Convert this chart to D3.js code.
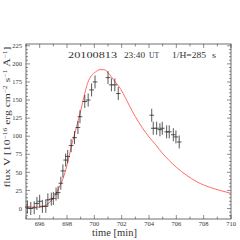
<!DOCTYPE html>
<html>
<head>
<meta charset="utf-8">
<script src="https://cdn.jsdelivr.net/npm/d3@7"></script>
<style>
  body { margin: 0; background: #fff; }
  svg { display: block; }
  text { font-family: "Liberation Serif", "DejaVu Serif", serif; fill: #333; }
</style>
</head>
<body>
<svg id="chart" width="240" height="240"></svg>
<script>
// observed flux (time in min, flux, errors)
const obsTime = [695.1, 695.35, 695.6, 695.8, 696.0, 696.2, 696.45, 696.6, 696.85, 697.0,
  697.2, 697.35, 697.55, 697.7, 697.9, 698.05, 698.3, 698.55, 698.8, 698.95,
  699.3, 699.55, 699.8, 700.05, 701.0, 701.25, 701.5, 701.75,
  704.2, 704.31, 704.56, 704.8, 704.97, 705.29, 705.48, 705.78, 705.97, 706.21];
const obsFlux = [2, 0, 1, 7, 10, 3, 3, 12, 13, 14,
  20, 22, 35, 52, 67, 72, 87, 98, 112, 127,
  148, 150, 164, 175, 181, 171, 171, 159,
  129, 111, 111, 109, 111, 106, 106, 102, 99, 92];
const timeErr = 0.17;
const fluxErr = 9;

// model curve
const modelTime = [695.0, 695.5, 696.0, 696.3, 696.5, 696.8, 697.0, 697.2, 697.5, 697.7,
  698.0, 698.2, 698.4, 698.7, 699.0, 699.3, 699.5, 699.8, 700.1, 700.4,
  700.7, 701.0, 701.4, 701.9, 702.3, 702.6, 703.0, 703.5, 704.0, 704.5,
  705.0, 705.5, 706.0, 706.75, 707.5, 708.5, 709.2, 710.0];
const modelFlux = [2, 2, 2, 3, 5, 10, 15, 21, 32, 41,
  60, 76, 92, 113, 135, 159, 173, 184, 189, 192,
  192, 188, 178, 166, 152, 141, 127, 112, 99, 88,
  76, 66, 57, 46, 37, 29, 25, 21];

const xTicks = [696, 698, 700, 702, 704, 706, 708, 710];
const yTicks = [0, 25, 50, 75, 100, 125, 150, 175, 200, 225];

const frame = { left: 26, right: 231, top: 44, bottom: 219 };
const svg = d3.select('#chart');

const x = d3.scaleLinear().domain([695, 710]).range([frame.left, frame.right]);
const y = d3.scaleLinear().domain([-14.5, 227.5]).range([frame.bottom, frame.top]);

// tick marks on all four sides, pointing inward
const xMinor = d3.range(695, 710.01, 1);
const yMinor = d3.range(-10, 227, 5);
const ticks = svg.append('g').attr('stroke', '#444').attr('stroke-width', 0.6);
xMinor.forEach(t => {
  const len = t % 2 === 0 ? 4 : 2.5;
  ticks.append('line').attr('x1', x(t)).attr('x2', x(t)).attr('y1', frame.bottom).attr('y2', frame.bottom - len);
  ticks.append('line').attr('x1', x(t)).attr('x2', x(t)).attr('y1', frame.top).attr('y2', frame.top + len);
});
yMinor.forEach(v => {
  const len = v % 25 === 0 ? 4 : 2;
  ticks.append('line').attr('y1', y(v)).attr('y2', y(v)).attr('x1', frame.left).attr('x2', frame.left + len);
  ticks.append('line').attr('y1', y(v)).attr('y2', y(v)).attr('x1', frame.right).attr('x2', frame.right - len);
});

svg.append('rect')
  .attr('x', frame.left).attr('y', frame.top)
  .attr('width', frame.right - frame.left).attr('height', frame.bottom - frame.top)
  .attr('fill', 'none').attr('stroke', '#333').attr('stroke-width', 0.7);

// tick labels
svg.append('g').selectAll('text').data(xTicks).join('text')
  .attr('x', d => x(d)).attr('y', 225.5)
  .attr('text-anchor', 'middle').attr('font-size', 6.5)
  .text(d => d);
svg.append('g').selectAll('text').data(yTicks).join('text')
  .attr('x', 22).attr('y', d => y(d) + 2.2)
  .attr('text-anchor', 'end').attr('font-size', 6.5)
  .text(d => d);

// model
const line = d3.line().x(d => x(d[0])).y(d => y(d[1]));
svg.append('path')
  .datum(d3.zip(modelTime, modelFlux))
  .attr('d', line.curve(d3.curveMonotoneX))
  .attr('fill', 'none').attr('stroke', '#ff5a5a').attr('stroke-width', 0.9);

// observations with error bars
const pts = svg.append('g').attr('stroke', '#222').attr('stroke-width', 0.75);
d3.zip(obsTime, obsFlux).forEach(([t, f]) => {
  pts.append('line').attr('x1', x(t - timeErr)).attr('x2', x(t + timeErr)).attr('y1', y(f)).attr('y2', y(f));
  pts.append('line').attr('x1', x(t)).attr('x2', x(t)).attr('y1', y(f - fluxErr)).attr('y2', y(f + fluxErr));
});

// header, glyphs stretched to mimic the wide plotting font
const head = svg.append('g').attr('font-size', 8.5);
const headText = (tx, len, s) => head.append('text')
  .attr('x', tx).attr('y', 57.5)
  .attr('textLength', len).attr('lengthAdjust', 'spacingAndGlyphs')
  .text(s);
headText(68, 49, '20100813');
headText(124, 21, '23:40');
headText(149, 10, 'UT');
headText(172, 34, '1/H=285');
headText(212, 4, 's');

// axis titles
svg.append('text')
  .attr('x', 114.5).attr('y', 236)
  .attr('text-anchor', 'middle').attr('font-size', 10.5)
  .attr('textLength', 45)
  .text('time [min]');

const yl = svg.append('text')
  .attr('transform', 'translate(10,117) rotate(-90)')
  .attr('text-anchor', 'middle').attr('font-size', 8.5)
  .attr('textLength', 141).attr('lengthAdjust', 'spacingAndGlyphs');
yl.append('tspan').text('flux  V  [10');
yl.append('tspan').attr('dy', -3).attr('font-size', 5.5).text('−16');
yl.append('tspan').attr('dy', 3).text(' erg cm');
yl.append('tspan').attr('dy', -3).attr('font-size', 5.5).text('−2');
yl.append('tspan').attr('dy', 3).text(' s');
yl.append('tspan').attr('dy', -3).attr('font-size', 5.5).text('−1');
yl.append('tspan').attr('dy', 3).text(' Å');
yl.append('tspan').attr('dy', -3).attr('font-size', 5.5).text('−1');
yl.append('tspan').attr('dy', 3).text(']');
</script>
</body>
</html>
